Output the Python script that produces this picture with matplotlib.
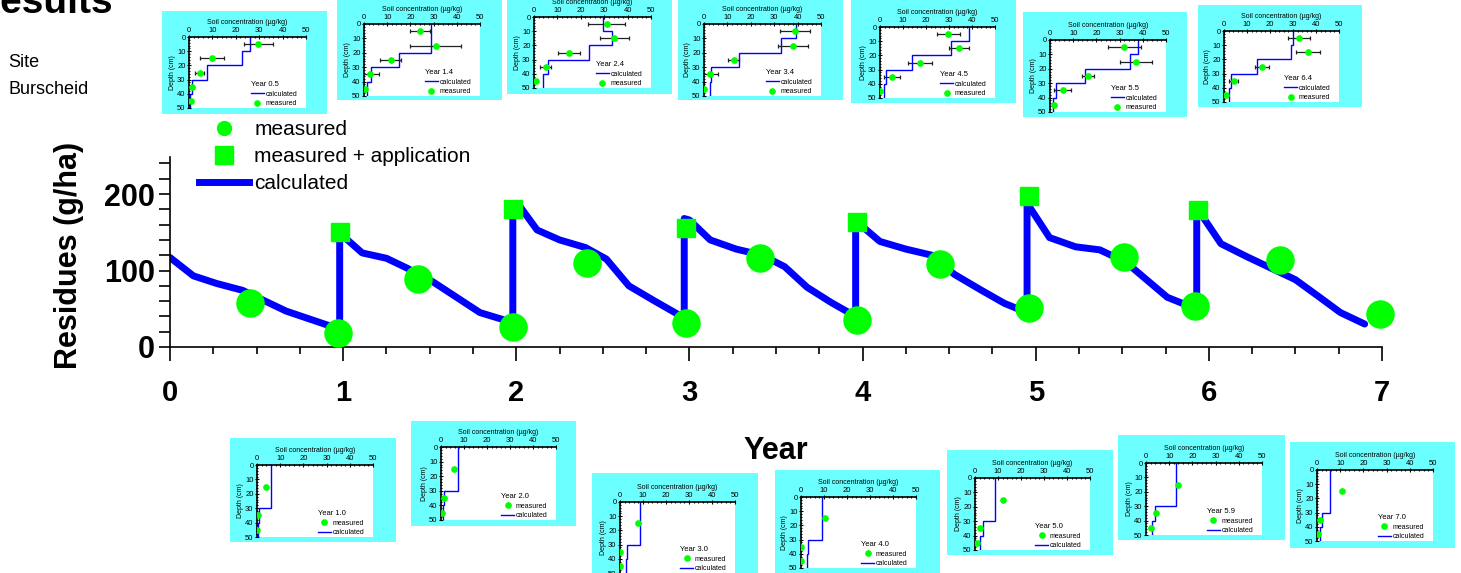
import matplotlib
matplotlib.use("Agg")
import matplotlib.pyplot as plt
from matplotlib.lines import Line2D
from matplotlib.patches import Rectangle
from matplotlib.ticker import MultipleLocator

plt.rcParams['font.family'] = ['Liberation Sans', 'DejaVu Sans']

W, H = 1461, 573
GREEN = '#00ff00'
BLUE = '#0000ff'
CYAN = '#6cffff'

# main chart: residues in soil over the years
calc_year = [0.00, 0.135, 0.27, 0.42, 0.67, 0.905, 0.98,
             0.98, 1.11, 1.25, 1.37, 1.52, 1.79, 1.965, 1.98,
             1.98, 2.02, 2.12, 2.25, 2.40, 2.52, 2.65, 2.80, 2.97,
             2.97, 3.00, 3.12, 3.27, 3.42, 3.55, 3.68, 3.82, 3.96,
             3.96, 4.10, 4.25, 4.40, 4.53, 4.68, 4.82, 4.95,
             4.95, 5.08, 5.23, 5.37, 5.52, 5.64, 5.76, 5.87, 5.93,
             5.93, 6.07, 6.22, 6.36, 6.50, 6.64, 6.76, 6.90]
calc_res = [117, 93, 83, 74, 47, 29, 24,
            149, 123, 116, 103, 85, 45, 33, 31,
            187, 184, 153, 140, 130, 115, 80, 60, 38,
            168, 166, 140, 128, 120, 105, 78, 58, 40,
            165, 138, 128, 120, 95, 75, 57, 45,
            188, 143, 131, 127, 111, 88, 65, 55, 52,
            182, 135, 118, 103, 88, 65, 45, 30]

meas_year = [0.46, 0.97, 1.435, 1.98, 2.41, 2.98, 3.41, 3.97, 4.45, 4.96, 5.51, 5.92, 6.41, 6.99]
meas_res = [58, 18, 89, 26, 110, 31, 116, 35, 108, 51, 118, 54, 114, 43]

appl_year = [0.98, 1.98, 2.98, 3.97, 4.96, 5.94]
appl_res = [150, 180, 155, 163, 197, 179]

# depth profiles (10 cm layers, 0-50 cm)
layer_edges = [0, 10, 20, 30, 40, 50]
depth_top = [5, 15, 25, 35, 45]
depth_bottom = [15, 35, 45]

top_labels = ['0.5', '1.4', '2.4', '3.4', '4.5', '5.5', '6.4']
top_calc = [[26, 22.5, 7.5, 1.2, 0.5],
            [29, 28.7, 15, 3, 1.5],
            [29.5, 33.5, 23.5, 6, 4],
            [39.5, 33, 15, 3, 2.5],
            [38.5, 31, 14, 2.5, 1.7],
            [38, 34.5, 15, 2.5, 1.5],
            [30, 29, 14.5, 3, 2]]
top_meas = [[29.6, 9.9, 4.6, 1.3, 1.0],
            [24, 31, 11.5, 2.7, 0.3],
            [31, 34.3, 15, 5, 0.7],
            [39, 38, 12.7, 2.5, 0],
            [29.7, 34.3, 17.4, 5.4, 0],
            [32, 37, 16.3, 5.5, 1.6],
            [32.6, 36.5, 16.5, 4.2, 0.7]]
top_err = [[6.2, 5.2, 2.0, 0, 0],
           [4.3, 11, 4.5, 3.8, 0],
           [8, 6.3, 4.8, 2.3, 0],
           [6.5, 6.5, 2.3, 3.5, 0],
           [4.9, 4.3, 5.1, 3.5, 0],
           [7.2, 7, 2.6, 3.6, 0],
           [4.7, 5.2, 3, 2, 0]]

bottom_labels = ['1.0', '2.0', '3.0', '4.0', '5.0', '5.9', '7.0']
bottom_calc = [[6, 6, 6, 1, 0.3],
               [7.5, 7.5, 7.5, 1.5, 1.0],
               [8.5, 8.5, 8.5, 3, 2.5],
               [9, 9, 9, 3, 2.5],
               [8.7, 8.7, 8.7, 3.5, 2],
               [13, 13, 13, 4, 2.5],
               [5.6, 5.6, 5.6, 2, 1.3]]
bottom_meas = [[4, 0.4, 0.1],
               [5.8, 1.2, 0.6],
               [7.7, 0, 0],
               [10.4, 0.2, 0],
               [12, 2, 1],
               [13.8, 4.3, 2],
               [10.8, 1.3, 0.5]]

# panel boxes in pixels: cyan (x0, y0, x1, y1) and plot area (x0, y0, x1, y1)
top_panels = [(162, 11, 327, 114), (337, 0, 502, 100), (507, 0, 672, 94),
              (678, 0, 843, 100), (851, 0, 1016, 103), (1023, 12, 1187, 117),
              (1198, 5, 1362, 107)]
top_areas = [(189, 37, 306, 108), (364, 24, 480, 96), (534, 17, 651, 88),
             (704, 24, 821, 96), (880, 27, 995, 98), (1050, 40, 1166, 112),
             (1224, 31, 1339, 102)]
bottom_panels = [(230, 438, 396, 542), (411, 421, 576, 526), (592, 473, 758, 573),
                 (775, 470, 940, 573), (947, 450, 1113, 555), (1118, 435, 1285, 540),
                 (1290, 442, 1455, 548)]
bottom_areas = [(257, 465, 373, 537), (441, 447, 556, 520), (620, 502, 735, 573),
                (801, 497, 916, 568), (975, 478, 1090, 550), (1146, 463, 1262, 535),
                (1317, 470, 1433, 541)]

fig = plt.figure(figsize=(W / 100, H / 100), dpi=100)

# ---- main chart ----
ax = fig.add_axes([170 / W, 1 - 347 / H, 1212 / W, (347 - 157.3) / H])
ax.plot(calc_year, calc_res, color=BLUE, lw=5, solid_capstyle='round',
        solid_joinstyle='round', zorder=2)
ax.plot(meas_year, meas_res, 'o', color=GREEN, ms=19.5, zorder=3, clip_on=False)
ax.plot(appl_year, appl_res, 's', color=GREEN, ms=12.5, zorder=4, clip_on=False)

ax.set_xlim(0, 7)
ax.set_ylim(0, 248)
ax.set_xticks(range(0, 8))
ax.set_yticks([0, 100, 200])
ax.xaxis.set_minor_locator(MultipleLocator(0.25))
ax.yaxis.set_minor_locator(MultipleLocator(20))
ax.tick_params(axis='y', which='both', direction='out', length=8, width=1.2,
               labelsize=22, pad=3)
ax.tick_params(axis='x', which='major', direction='out', length=10, width=1.2,
               labelsize=21, pad=13)
ax.tick_params(axis='x', which='minor', direction='out', length=5, width=1.2)
for lbl in ax.get_xticklabels() + ax.get_yticklabels():
    lbl.set_fontweight('bold')
for s in ['top', 'right']:
    ax.spines[s].set_visible(False)
for s in ['left', 'bottom']:
    ax.spines[s].set_linewidth(1.2)
ax.set_facecolor('none')

ax.set_xlabel('Year', fontsize=22, fontweight='bold')
ax.xaxis.set_label_coords(0.5, -0.47)
ax.set_ylabel('Residues (g/ha)', fontsize=22, fontweight='bold')
ax.yaxis.set_label_coords(-0.071, 0.485)

handles = [Line2D([], [], marker='o', ls='none', color=GREEN, ms=10, label='measured'),
           Line2D([], [], marker='s', ls='none', color=GREEN, ms=12.5,
                  label='measured + application'),
           Line2D([], [], color=BLUE, lw=5, label='calculated')]
ax.legend(handles=handles, loc='upper left', bbox_to_anchor=(199 / W, 1 - 120 / H),
          bbox_transform=fig.transFigure, frameon=False, fontsize=15,
          handlelength=2.4, handletextpad=0.25, labelspacing=0.38,
          borderpad=0, borderaxespad=0)

fig.text(-28 / W, 1 - 13 / H, 'Results', fontsize=28, fontweight='bold', va='baseline')
fig.text(8 / W, 1 - 67 / H, 'Site', fontsize=13, va='baseline')
fig.text(8 / W, 1 - 94 / H, 'Burscheid', fontsize=13, va='baseline')


def draw_profile(panel, area, label, calc, depths, meas, err, measured_first):
    x0, y0, x1, y1 = panel
    fig.add_artist(Rectangle((x0 / W, 1 - y1 / H), (x1 - x0) / W, (y1 - y0) / H,
                             transform=fig.transFigure, facecolor=CYAN,
                             edgecolor='none', zorder=-1))
    l, t, r, b = area
    iax = fig.add_axes([l / W, 1 - b / H, (r - l) / W, (b - t) / H], zorder=1)
    iax.stairs(calc, layer_edges, orientation='horizontal', baseline=None,
               color=BLUE, lw=1.0, zorder=2)
    if err is not None:
        iax.errorbar(meas, depths, xerr=err, fmt='o', color=GREEN, ms=3.8,
                     ecolor='#222222', elinewidth=0.9, capsize=1.5, capthick=0.9,
                     zorder=3)
    else:
        iax.plot(meas, depths, 'o', color=GREEN, ms=3.8, zorder=3)
    iax.set_xlim(0, 50)
    iax.set_ylim(50, 0)
    iax.xaxis.set_ticks_position('top')
    iax.xaxis.set_label_position('top')
    iax.set_xticks(range(0, 51, 10))
    iax.set_yticks(range(0, 51, 10))
    iax.xaxis.set_minor_locator(MultipleLocator(2))
    iax.yaxis.set_minor_locator(MultipleLocator(2))
    iax.tick_params(which='both', direction='inout', labelsize=5.5, pad=1, width=0.8)
    iax.tick_params(which='major', length=3)
    iax.tick_params(which='minor', length=2)
    for s in ['right', 'bottom']:
        iax.spines[s].set_visible(False)
    for s in ['top', 'left']:
        iax.spines[s].set_linewidth(1.2)
    iax.set_xlabel('Soil concentration (µg/kg)', fontsize=5, labelpad=2)
    iax.set_ylabel('Depth (cm)', fontsize=5, labelpad=1)

    h_calc = Line2D([], [], color=BLUE, lw=1.0, label='calculated')
    h_meas = Line2D([], [], marker='o', ls='none', color=GREEN, ms=3.8, label='measured')
    hs = [h_meas, h_calc] if measured_first else [h_calc, h_meas]
    iax.legend(handles=hs, title=f'Year {label}', loc='lower right',
               bbox_to_anchor=(0.93, 0.0), frameon=False, fontsize=5,
               title_fontsize=5.5, alignment='left', handlelength=1.9,
               handletextpad=0.2, labelspacing=0.35, borderpad=0.1,
               borderaxespad=0)


for i, lab in enumerate(top_labels):
    draw_profile(top_panels[i], top_areas[i], lab, top_calc[i], depth_top,
                 top_meas[i], top_err[i], False)
for i, lab in enumerate(bottom_labels):
    draw_profile(bottom_panels[i], bottom_areas[i], lab, bottom_calc[i], depth_bottom,
                 bottom_meas[i], None, True)

fig.savefig('out.png', dpi=100)
